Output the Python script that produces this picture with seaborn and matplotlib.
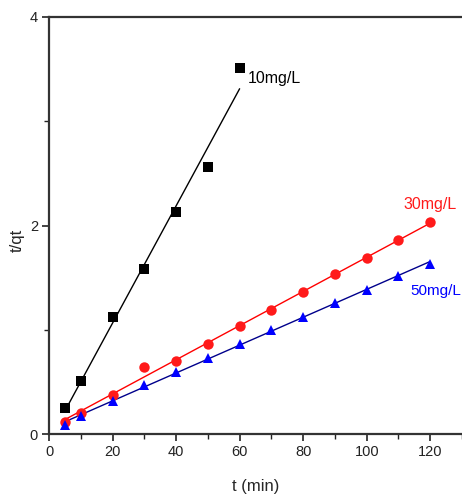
import matplotlib
matplotlib.use("Agg")
import matplotlib.pyplot as plt
from matplotlib.ticker import MultipleLocator
import numpy as np
import pandas as pd
import seaborn as sns

sns.set_theme(style="ticks")
plt.rcParams["font.family"] = ["Liberation Sans Narrow", "Liberation Sans", "DejaVu Sans"]

# pseudo-second-order kinetics: t/qt versus contact time
t_10 = [5, 10, 20, 30, 40, 50, 60]
tq_10 = [0.25, 0.51, 1.125, 1.58, 2.125, 2.56, 3.51]

t_30 = [5, 10, 20, 30, 40, 50, 60, 70, 80, 90, 100, 110, 120]
tq_30 = [0.115, 0.20, 0.375, 0.647, 0.70, 0.86, 1.04, 1.19, 1.36, 1.53, 1.69, 1.86, 2.03]

t_50 = [5, 10, 20, 30, 40, 50, 60, 70, 80, 90, 100, 110, 120]
tq_50 = [0.09, 0.17, 0.32, 0.47, 0.59, 0.73, 0.865, 1.0, 1.12, 1.26, 1.385, 1.52, 1.63]

labels = ["10mg/L", "30mg/L", "50mg/L"]

series = [
    (t_10, tq_10, "black", "black", "s", 7.0),
    (t_30, tq_30, "red", "#ff1a1a", "o", 7.5),
    (t_50, tq_50, "#00008b", "#0000ff", "^", 7.5),
]

fig = plt.figure(figsize=(4.62, 5.0), dpi=100)
ax = fig.add_axes([49 / 462, 66 / 500, 413 / 462, 417 / 500])

for (tx, ty, line_c, mark_c, mk, ms) in series:
    df = pd.DataFrame({"t": tx, "tq": ty})
    sns.regplot(data=df, x="t", y="tq", ax=ax, ci=None, scatter=False,
                truncate=True, line_kws={"color": line_c, "lw": 1.0})
    ax.plot(df["t"], df["tq"], linestyle="none", marker=mk, ms=ms,
            color=mark_c, markeredgewidth=0, zorder=3)

ax.text(62.7, 3.41, labels[0], color="black", fontsize=11.5, va="center", ha="left")
ax.text(111.5, 2.20, labels[1], color="#ff1a1a", fontsize=11.5, va="center", ha="left")
ax.text(113.8, 1.37, labels[2], color="#0000ff", fontsize=11, va="center", ha="left")

ax.set_xlim(0, 130)
ax.set_ylim(0, 4)
ax.xaxis.set_major_locator(MultipleLocator(20))
ax.xaxis.set_minor_locator(MultipleLocator(10))
ax.yaxis.set_major_locator(MultipleLocator(2))
ax.yaxis.set_minor_locator(MultipleLocator(1))
ax.tick_params(which="major", direction="out", length=5, width=1.2, labelsize=10.5,
               colors="#222222", pad=3)
ax.tick_params(which="minor", direction="out", length=3.5, width=1.0, colors="#222222")

ax.set_xlabel("t (min)", fontsize=12)
ax.set_ylabel("t/qt", fontsize=12)
ax.xaxis.set_label_coords((256 - 49) / 413, -(479 - 434) / 417)
ax.yaxis.set_label_coords(-(49 - 25) / 413, (434 - 240) / 417)

for side in ["left", "bottom", "top"]:
    ax.spines[side].set_linewidth(1.6)
    ax.spines[side].set_color("#333333")
ax.spines["right"].set_visible(False)

fig.savefig("out.png", dpi=100)
